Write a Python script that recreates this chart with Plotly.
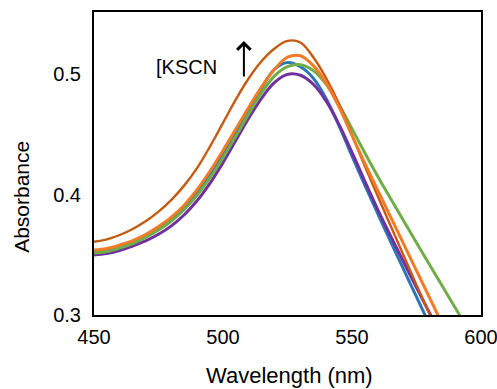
import plotly.graph_objects as go

wavelength = list(range(450, 601, 5))

brown = [0.3608, 0.3628, 0.3664, 0.3714, 0.3778, 0.3858, 0.3956, 0.4076, 0.4221, 0.4400,
         0.4595, 0.4790, 0.4965, 0.5108, 0.5212, 0.5275, 0.5262, 0.5140, 0.4965, 0.4750,
         0.4494, 0.4235, 0.3985, 0.3738, 0.3493, 0.3250, 0.3008, 0.2768, None, None, None]
orange = [0.3539, 0.3552, 0.3581, 0.3618, 0.3668, 0.3734, 0.3813, 0.3913, 0.4042, 0.4195,
          0.4365, 0.4545, 0.4725, 0.4895, 0.5040, 0.5140, 0.5152, 0.5070, 0.4925, 0.4725,
          0.4490, 0.4258, 0.4035, 0.3812, 0.3590, 0.3368, 0.3146, 0.2924, None, None, None]
green = [0.3515, 0.3527, 0.3556, 0.3593, 0.3643, 0.3705, 0.3780, 0.3876, 0.3995, 0.4140,
         0.4305, 0.4485, 0.4670, 0.4845, 0.4985, 0.5062, 0.5078, 0.5030, 0.4915, 0.4745,
         0.4545, 0.4345, 0.4150, 0.3965, 0.3782, 0.3600, 0.3420, 0.3240, 0.3060, 0.2880, None]
blue = [0.3523, 0.3535, 0.3564, 0.3602, 0.3656, 0.3718, 0.3797, 0.3893, 0.4020, 0.4170,
        0.4340, 0.4520, 0.4700, 0.4885, 0.5040, 0.5095, 0.5060, 0.4965, 0.4795, 0.4570,
        0.4318, 0.4075, 0.3840, 0.3608, 0.3378, 0.3150, 0.2922, None, None, None, None]
purple = [0.3498, 0.3510, 0.3535, 0.3573, 0.3615, 0.3670, 0.3740, 0.3832, 0.3950, 0.4095,
          0.4265, 0.4450, 0.4635, 0.4800, 0.4930, 0.4997, 0.4990, 0.4915, 0.4775, 0.4580,
          0.4350, 0.4110, 0.3875, 0.3655, 0.3440, 0.3228, 0.3020, 0.2815, None, None, None]

x_ticks = [450, 500, 550, 600]
y_ticks = [0.3, 0.4, 0.5]
y_tick_text = ["0.3", "0.4", "0.5"]

series = [
    ("blue", blue, "#2E75B6", 3),
    ("purple", purple, "#7030A0", 3),
    ("green", green, "#70AD47", 3),
    ("brown", brown, "#C55A11", 2.4),
    ("orange", orange, "#F47B26", 3),
]

FONT = "Arial, Liberation Sans, sans-serif"

fig = go.Figure()
for name, vals, col, w in series:
    fig.add_trace(go.Scatter(x=wavelength, y=vals, mode="lines", name=name,
                             line=dict(color=col, width=w, shape="spline"),
                             connectgaps=False, showlegend=False, hoverinfo="skip"))

fig.update_layout(
    width=497, height=389,
    margin=dict(l=94, r=16, t=12, b=74, autoexpand=False),
    paper_bgcolor="white", plot_bgcolor="white",
    font=dict(family=FONT, size=20, color="black"),
    showlegend=False,
)
fig.update_xaxes(range=[450, 600], tickvals=x_ticks, showgrid=False, zeroline=False,
                 showline=True, linecolor="black", linewidth=2, mirror=True,
                 ticks="outside", ticklen=3, tickcolor="rgba(0,0,0,0)", automargin=False,
                 ticklabeloverflow="allow",
                 tickfont=dict(size=20, family=FONT))
fig.update_yaxes(range=[0.3, 0.5515], tickvals=y_ticks, ticktext=y_tick_text,
                 showgrid=False, zeroline=False, automargin=False,
                 showline=True, linecolor="black", linewidth=2, mirror=True,
                 ticks="outside", ticklen=7, tickcolor="rgba(0,0,0,0)",
                 ticklabeloverflow="allow",
                 tickfont=dict(size=20, family=FONT))

fig.add_annotation(text="Absorbance", xref="paper", yref="paper", x=-0.186, y=0.39,
                   textangle=-90, showarrow=False, font=dict(size=21, family=FONT),
                   xanchor="center", yanchor="middle")
fig.add_annotation(text="Wavelength (nm)", xref="paper", yref="paper", x=0.504, y=-0.201,
                   showarrow=False, font=dict(size=22, family=FONT),
                   xanchor="center", yanchor="middle")
fig.add_annotation(text="[KSCN", xref="x", yref="y", x=485.7, y=0.5058,
                   showarrow=False, font=dict(size=20, family=FONT),
                   xanchor="center", yanchor="middle")
fig.add_annotation(text="", xref="x", yref="y", x=508.1, y=0.5274,
                   axref="x", ayref="y", ax=508.1, ay=0.4967,
                   showarrow=True, arrowhead=4, arrowsize=1.3, arrowwidth=2,
                   arrowcolor="black")

# remove the default 8px page margin so the figure fills the 497x389 window exactly
fig.write_html("out.html",
               config={"displayModeBar": False},
               post_script="document.body.style.margin='0px';document.body.style.overflow='hidden';")
